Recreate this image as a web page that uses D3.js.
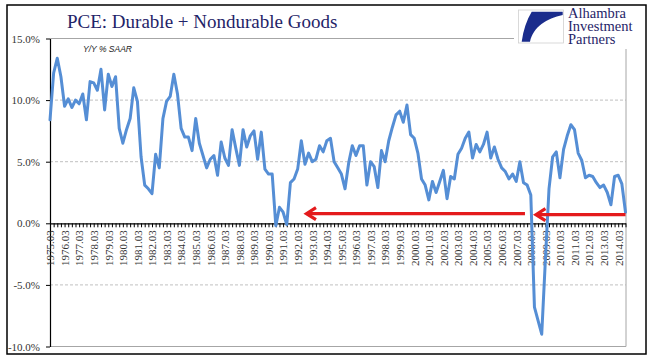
<!DOCTYPE html>
<html><head><meta charset="utf-8">
<script src="https://cdn.jsdelivr.net/npm/d3@7"></script>
<style>body{margin:0;background:#fff}svg{display:block}</style>
</head><body><svg id="c" width="655" height="358"></svg>
<script>
const title = "PCE: Durable + Nondurable Goods";
const subtitle = "Y/Y % SAAR";
const logoLines = ["Alhambra", "Investment", "Partners"];
const quarterMonths = ["03", "06", "09", "12"];
const tickLabels = ["1975.03","1976.03","1977.03","1978.03","1979.03","1980.03","1981.03","1982.03","1983.03","1984.03",
  "1985.03","1986.03","1987.03","1988.03","1989.03","1990.03","1991.03","1992.03","1993.03","1994.03",
  "1995.03","1996.03","1997.03","1998.03","1999.03","2000.03","2001.03","2002.03","2003.03","2004.03",
  "2005.03","2006.03","2007.03","2008.03","2009.03","2010.03","2011.03","2012.03","2013.03","2014.03"];
const yTicks = [-10, -5, 0, 5, 10, 15];
// quarterly Y/Y %, 1975Q1 .. 2014Q3
const pceYoY = [
  8.4,12.2,13.4,11.9, 9.5,10.1,9.4,10.0, 9.7,10.5,8.4,11.5, 11.4,10.8,12.5,9.2,
  12.1,11.1,11.9,7.7, 6.5,7.6,8.5,11.0, 9.9,5.4,3.1,2.8, 2.4,5.6,4.5,8.5,
  9.9,10.3,12.1,10.5, 7.7,7.0,7.0,5.9, 8.5,6.5,5.5,4.5, 5.2,5.5,3.9,6.6,
  5.3,4.7,7.6,6.1, 4.7,7.6,6.2,7.1, 7.5,5.2,7.4,4.4, 4.0,4.0,-0.2,1.3,
  0.9,-0.1,3.3,3.6, 4.4,6.7,4.8,5.7, 5.0,5.2,6.3,5.8, 6.7,6.9,5.0,4.5,
  4.0,2.8,4.9,6.3, 5.5,6.3,6.3,3.1, 5.0,4.6,2.9,5.9, 5.0,6.7,7.8,8.8,
  9.1,8.2,9.6,7.2, 6.9,5.7,3.6,3.1, 1.9,3.4,2.5,3.4, 4.3,2.0,3.8,3.6,
  5.6,6.1,6.9,7.4, 5.3,6.4,5.8,6.4, 7.4,5.3,6.2,5.2, 4.5,4.2,3.6,4.0,
  3.4,5.0,3.3,3.1, 2.3,-6.8,-7.9,-9.0, -3.0,2.8,5.4,5.8, 3.7,6.0,7.1,8.0,
  7.6,5.7,5.1,3.7, 3.9,3.8,3.3,2.9, 3.1,2.5,1.5,3.8, 3.9,3.2,0.9
];
// annotation arrows in data units (quarter index, value)
const arrows = [
  { from: 130.4, to: 70, value: 0.78 },
  { from: 158, to: 133, value: 0.7 }
];

const categories = pceYoY.map((d, i) => (1975 + Math.floor(i / 4)) + "." + quarterMonths[i % 4]);

const svg = d3.select("#c");
const L = 50, R = 626, T = 38.5, B = 346.5;
const serif = "'Liberation Serif','Times New Roman',serif";

const x = d3.scalePoint().domain(categories).range([L, 625.5]);
const xi = i => x(categories[0]) + i * x.step();
const y = d3.scaleLinear().domain([-10, 15]).range([B, T]);

// plot frame (gray)
svg.append("line").attr("x1", L).attr("x2", R).attr("y1", T).attr("y2", T).attr("stroke", "#a6a6a6").attr("stroke-width", 1);
svg.append("line").attr("x1", L).attr("x2", R).attr("y1", B).attr("y2", B).attr("stroke", "#a6a6a6").attr("stroke-width", 1);
svg.append("line").attr("x1", R).attr("x2", R).attr("y1", T).attr("y2", B).attr("stroke", "#a6a6a6").attr("stroke-width", 1);

// dashed gridlines
svg.append("g").selectAll("line").data(yTicks.filter(v => v !== 0 && v !== 15 && v !== -10)).join("line")
  .attr("x1", L).attr("x2", R).attr("y1", d => y(d)).attr("y2", d => y(d))
  .attr("stroke", "#b0b0b0").attr("stroke-width", 0.8).attr("stroke-dasharray", "3,2");

// y axis
const yAxis = svg.append("g").attr("transform", `translate(${L},0)`)
  .call(d3.axisLeft(y).tickValues(yTicks).tickSize(4).tickSizeOuter(0).tickPadding(6)
    .tickFormat(v => v.toFixed(1) + "%"));
yAxis.select(".domain").attr("stroke", "#000").attr("stroke-width", 1.2);
yAxis.selectAll(".tick line").attr("stroke", "#000");
yAxis.selectAll("text").attr("font-family", serif).attr("font-size", 11).attr("fill", "#333");

// x axis at zero
const xAxis = svg.append("g").attr("transform", `translate(0,${y(0)})`)
  .call(d3.axisBottom(x).tickSize(4).tickSizeOuter(0)
    .tickFormat((d, i) => i % 4 === 0 ? tickLabels[i / 4] : ""));
xAxis.select(".domain").attr("stroke", "#000").attr("stroke-width", 1.2);
xAxis.selectAll(".tick line").attr("stroke", "#000");
xAxis.selectAll("text")
  .attr("font-family", serif).attr("font-size", 11).attr("fill", "#333")
  .attr("transform", "rotate(-90)").attr("x", -7).attr("y", 0).attr("dy", "0.35em")
  .style("text-anchor", "end");

// series line
svg.append("path").datum(pceYoY)
  .attr("fill", "none").attr("stroke", "#558ed5").attr("stroke-width", 3)
  .attr("stroke-linejoin", "round").attr("stroke-linecap", "round")
  .attr("d", d3.line().x((d, i) => x(categories[i])).y(d => y(d)));

// red arrows
const ag = svg.append("g");
arrows.forEach(a => {
  const x1 = xi(a.from), x2 = xi(a.to), yy = y(a.value);
  ag.append("line").attr("x1", x1).attr("x2", x2 + 3).attr("y1", yy).attr("y2", yy)
    .attr("stroke", "#e41a1c").attr("stroke-width", 3.2);
  ag.append("path").attr("d", `M${x2 + 11},${yy - 6} L${x2 + 1.5},${yy} L${x2 + 11},${yy + 6}`)
    .attr("fill", "none").attr("stroke", "#e41a1c").attr("stroke-width", 3.2).attr("stroke-linejoin", "miter");
});

// title and subtitle
svg.append("text").attr("x", 67).attr("y", 28).attr("font-family", serif).attr("font-size", 19)
  .attr("fill", "#1f2468").text(title);
svg.append("text").attr("x", 83).attr("y", 52).attr("font-family", "'Liberation Sans',Arial,sans-serif")
  .attr("font-style", "italic").attr("font-size", 8.5).attr("fill", "#222").text(subtitle);

// logo
const lg = svg.append("g");
lg.append("rect").attr("x", 514).attr("y", 6).attr("width", 131).attr("height", 43).attr("fill", "#fff");
lg.append("rect").attr("x", 518.5).attr("y", 10).attr("width", 45).attr("height", 33)
  .attr("fill", "#fff").attr("stroke", "#d0d0d0").attr("stroke-width", 0.8);
lg.append("path").attr("d", "M531.7,11.7 L562.7,11.7 L562.7,15 C546.7,18.3 533.3,26.7 530,41.7 L521.7,41.7 C523.3,30 526.7,20 531.7,11.7 Z")
  .attr("fill", "#1a2c8c");
lg.append("text").attr("font-family", serif).attr("font-size", 14.5).attr("fill", "#1f2468")
  .selectAll("tspan").data(logoLines).join("tspan")
  .attr("x", 568).attr("y", (d, i) => 18 + i * 13).text(d => d);

// outer border
svg.append("rect").attr("x", 7).attr("y", 5).attr("width", 639).attr("height", 349)
  .attr("fill", "none").attr("stroke", "#000").attr("stroke-width", 1.5);
</script>
</body></html>
